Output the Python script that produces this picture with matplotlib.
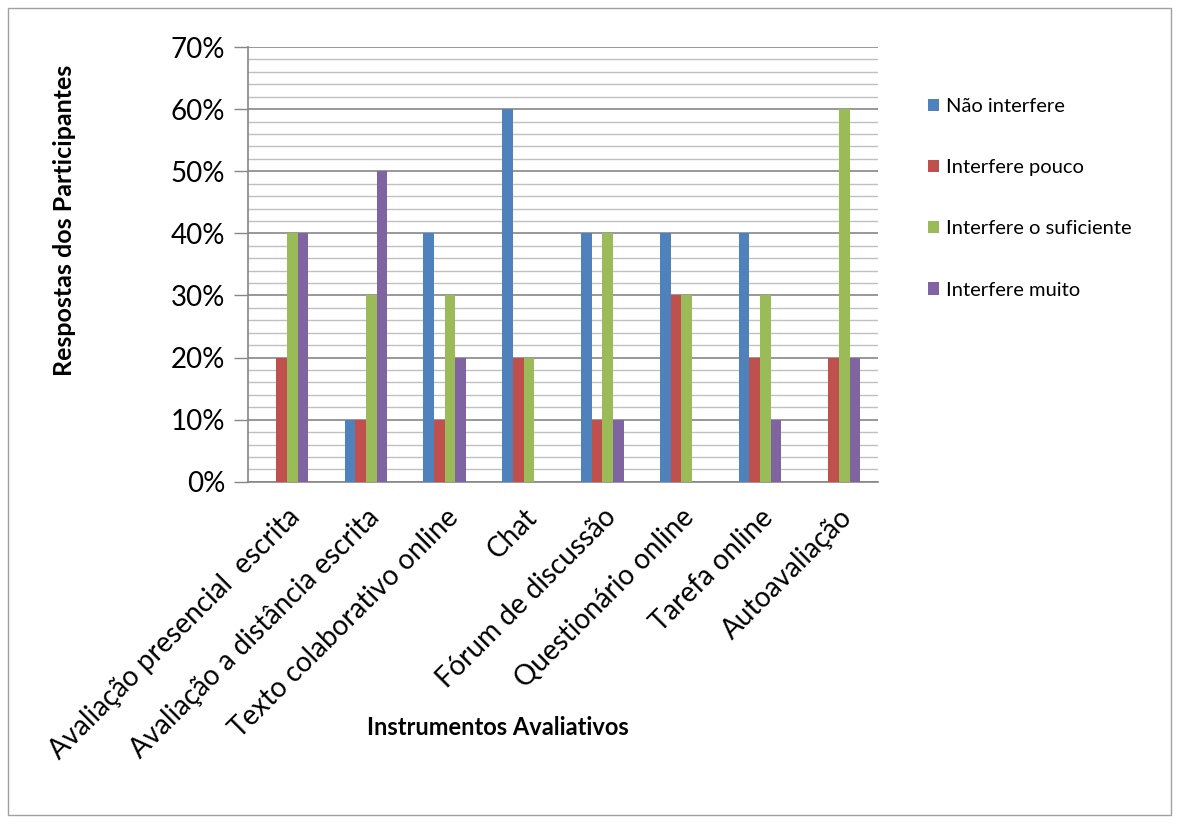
import numpy as np
import matplotlib
matplotlib.use("Agg")
import matplotlib.pyplot as plt
from matplotlib.patches import Rectangle

categorias = ["Avaliação presencial  escrita", "Avaliação a distância escrita",
              "Texto colaborativo online", "Chat", "Fórum de discussão",
              "Questionário online", "Tarefa online", "Autoavaliação"]
nao_interfere = [0, 10, 40, 60, 40, 40, 40, 0]
interfere_pouco = [20, 10, 10, 20, 10, 30, 20, 20]
interfere_suficiente = [40, 30, 30, 20, 40, 30, 30, 60]
interfere_muito = [40, 50, 20, 0, 10, 0, 10, 20]
series = ["Não interfere", "Interfere pouco", "Interfere o suficiente", "Interfere muito"]
cores = ["#4F81BD", "#C0504D", "#9BBB59", "#8064A2"]

plt.rcParams['font.family'] = ['Lato', 'DejaVu Sans']

fig = plt.figure(figsize=(11.79, 8.25), dpi=100)
ax = fig.add_axes([0.210, 0.416, 0.535, 0.527])

x = np.arange(len(categorias))
w = 0.135
dados = [nao_interfere, interfere_pouco, interfere_suficiente, interfere_muito]
for i, (d, nome, c) in enumerate(zip(dados, series, cores)):
    ax.bar(x + (i - 1.5) * w, d, w, color=c, label=nome, zorder=3)

ax.set_xlim(-0.5, len(categorias) - 0.5)
ax.set_ylim(0, 70)
ax.set_yticks(np.arange(0, 71, 10))
ax.set_yticklabels([f"{v}%" for v in range(0, 71, 10)], fontsize=20)
ax.set_yticks(np.arange(0, 71, 2), minor=True)
ax.grid(axis='y', which='major', color='#868686', linewidth=1.2, zorder=0)
ax.grid(axis='y', which='minor', color='#C0C0C0', linewidth=1.0, zorder=0)
ax.tick_params(axis='y', which='major', length=10, color='#868686', width=1, pad=6)
ax.tick_params(axis='y', which='minor', length=0)
ax.tick_params(axis='x', length=0, pad=16)
ax.set_xticks(x)
ax.set_xticklabels(categorias, rotation=45, ha='right', rotation_mode='anchor', fontsize=20)

for s in ['top', 'right']:
    ax.spines[s].set_visible(False)
for s in ['left', 'bottom']:
    ax.spines[s].set_color('#868686')
    ax.spines[s].set_linewidth(1.2)

fig.text(0.055, 0.733, "Respostas dos Participantes", fontsize=18, fontweight='bold',
         rotation=90, ha='center', va='center')
fig.text(0.422, 0.118, "Instrumentos Avaliativos", fontsize=17, fontweight='bold', ha='center', va='center')

ax.legend(loc='upper left', bbox_to_anchor=(1.05, 0.925), frameon=False, fontsize=14.5,
          handlelength=0.55, handleheight=0.55, handletextpad=0.35, labelspacing=2.2)

fig.add_artist(Rectangle((0.007, 0.012), 0.986, 0.978, transform=fig.transFigure,
                         fill=False, edgecolor='#A0A0A0', linewidth=1))

fig.savefig("out.png", dpi=100)
